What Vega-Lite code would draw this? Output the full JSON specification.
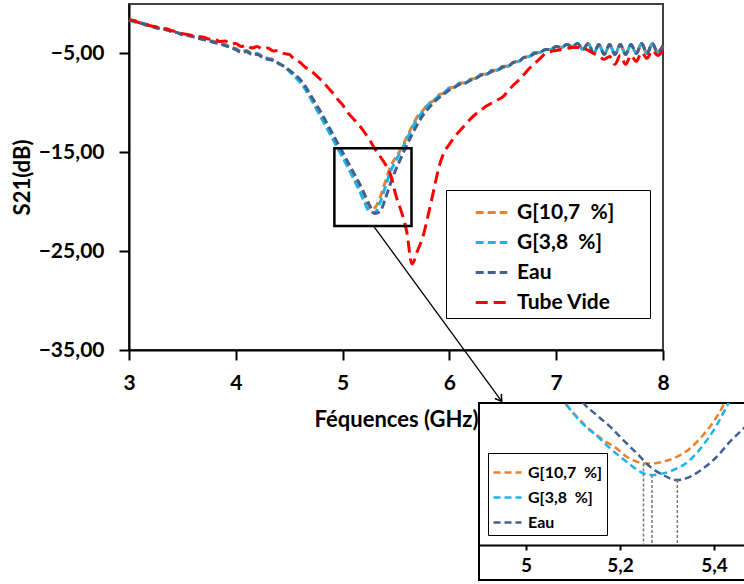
{
"$schema": "https://vega.github.io/schema/vega-lite/v6.json",
"background": "white",
"padding": {"left": 10, "top": 3, "right": 0, "bottom": 0},
"bounds": "flush",
"spacing": 53,
"config": {
 "font": "Lato",
 "view": {"stroke": "#404040", "strokeWidth": 2},
 "axis": {"grid": false, "labelFont": "Lato", "labelFontWeight": "bold", "labelColor": "#000", "titleFont": "Lato", "titleFontWeight": "bold", "titleColor": "#000", "domainColor": "#000", "tickColor": "#000"},
 "legend": {"labelFont": "Lato", "labelFontWeight": "bold", "labelColor": "#000", "strokeColor": "#000", "fillColor": "#fff", "labelLimit": 0}
},
"resolve": {"scale": {"color": "independent", "strokeDash": "independent", "strokeWidth": "independent"}, "legend": {"color": "independent", "strokeDash": "independent", "strokeWidth": "independent"}},
"datasets": {
 "main": [
  {"f":3.00,"g10":-1.6,"g38":-1.6,"eau":-1.6,"tv":-1.6},
  {"f":3.05,"g10":-1.8,"g38":-1.8,"eau":-1.7,"tv":-1.7},
  {"f":3.10,"g10":-1.9,"g38":-1.9,"eau":-1.9,"tv":-1.9},
  {"f":3.15,"g10":-2.1,"g38":-2.0,"eau":-2.1,"tv":-2.0},
  {"f":3.20,"g10":-2.2,"g38":-2.2,"eau":-2.2,"tv":-2.2},
  {"f":3.25,"g10":-2.4,"g38":-2.4,"eau":-2.4,"tv":-2.3},
  {"f":3.30,"g10":-2.4,"g38":-2.5,"eau":-2.5,"tv":-2.5},
  {"f":3.35,"g10":-2.6,"g38":-2.6,"eau":-2.6,"tv":-2.5},
  {"f":3.40,"g10":-2.7,"g38":-2.8,"eau":-2.8,"tv":-2.7},
  {"f":3.45,"g10":-2.9,"g38":-2.9,"eau":-2.9,"tv":-2.8},
  {"f":3.50,"g10":-3.0,"g38":-3.1,"eau":-3.1,"tv":-3.0},
  {"f":3.55,"g10":-3.1,"g38":-3.1,"eau":-3.2,"tv":-3.1},
  {"f":3.60,"g10":-3.3,"g38":-3.3,"eau":-3.3,"tv":-3.2},
  {"f":3.65,"g10":-3.4,"g38":-3.4,"eau":-3.5,"tv":-3.3},
  {"f":3.70,"g10":-3.5,"g38":-3.6,"eau":-3.6,"tv":-3.35},
  {"f":3.75,"g10":-3.7,"g38":-3.7,"eau":-3.7,"tv":-3.55},
  {"f":3.80,"g10":-3.8,"g38":-3.9,"eau":-3.9,"tv":-3.55},
  {"f":3.85,"g10":-4.0,"g38":-4.0,"eau":-4.0,"tv":-3.8},
  {"f":3.90,"g10":-4.1,"g38":-4.2,"eau":-4.2,"tv":-3.75},
  {"f":3.95,"g10":-4.4,"g38":-4.4,"eau":-4.4,"tv":-4.05},
  {"f":4.00,"g10":-4.5,"g38":-4.6,"eau":-4.6,"tv":-4.0},
  {"f":4.05,"g10":-4.8,"g38":-4.8,"eau":-4.9,"tv":-4.3},
  {"f":4.10,"g10":-4.7,"g38":-4.8,"eau":-4.8,"tv":-4.15},
  {"f":4.15,"g10":-5.0,"g38":-5.1,"eau":-5.1,"tv":-4.45},
  {"f":4.20,"g10":-5.0,"g38":-5.0,"eau":-5.1,"tv":-4.3},
  {"f":4.25,"g10":-5.3,"g38":-5.4,"eau":-5.4,"tv":-4.55},
  {"f":4.30,"g10":-5.5,"g38":-5.5,"eau":-5.6,"tv":-4.45},
  {"f":4.35,"g10":-5.6,"g38":-5.7,"eau":-5.7,"tv":-4.75},
  {"f":4.40,"g10":-6.0,"g38":-6.0,"eau":-6.0,"tv":-4.7},
  {"f":4.45,"g10":-6.3,"g38":-6.3,"eau":-6.3,"tv":-5.0},
  {"f":4.50,"g10":-6.7,"g38":-6.8,"eau":-6.7,"tv":-5.1},
  {"f":4.55,"g10":-7.2,"g38":-7.3,"eau":-7.1,"tv":-5.6},
  {"f":4.60,"g10":-7.8,"g38":-7.9,"eau":-7.6,"tv":-5.9},
  {"f":4.65,"g10":-8.6,"g38":-8.6,"eau":-8.3,"tv":-6.4},
  {"f":4.70,"g10":-9.5,"g38":-9.5,"eau":-9.2,"tv":-6.7},
  {"f":4.75,"g10":-10.5,"g38":-10.5,"eau":-10.1,"tv":-7.2},
  {"f":4.80,"g10":-11.4,"g38":-11.5,"eau":-11.0,"tv":-7.7},
  {"f":4.85,"g10":-12.4,"g38":-12.5,"eau":-12.0,"tv":-8.3},
  {"f":4.90,"g10":-13.4,"g38":-13.5,"eau":-13.0,"tv":-8.9},
  {"f":4.95,"g10":-14.4,"g38":-14.5,"eau":-14.0,"tv":-9.6},
  {"f":5.00,"g10":-15.4,"g38":-15.5,"eau":-15.0,"tv":-10.2},
  {"f":5.05,"g10":-16.5,"g38":-16.5,"eau":-16.0,"tv":-11.0},
  {"f":5.10,"g10":-17.5,"g38":-17.6,"eau":-17.0,"tv":-11.6},
  {"f":5.15,"g10":-18.6,"g38":-18.7,"eau":-18.0,"tv":-12.2},
  {"f":5.20,"g10":-19.7,"g38":-19.9,"eau":-19.1,"tv":-12.9},
  {"f":5.25,"g10":-20.7,"g38":-21.0,"eau":-20.3,"tv":-13.7},
  {"f":5.30,"g10":-20.6,"g38":-21.1,"eau":-21.2,"tv":-14.6},
  {"f":5.35,"g10":-19.6,"g38":-20.1,"eau":-21.0,"tv":-15.4},
  {"f":5.40,"g10":-18.0,"g38":-18.5,"eau":-19.7,"tv":-16.2},
  {"f":5.45,"g10":-16.4,"g38":-16.9,"eau":-18.1,"tv":-17.3},
  {"f":5.50,"g10":-15.5,"g38":-15.8,"eau":-16.7,"tv":-19.4},
  {"f":5.55,"g10":-14.6,"g38":-14.8,"eau":-15.5,"tv":-21.0},
  {"f":5.60,"g10":-13.5,"g38":-13.7,"eau":-14.3,"tv":-23.0},
  {"f":5.65,"g10":-12.4,"g38":-12.6,"eau":-13.2,"tv":-26.3},
  {"f":5.70,"g10":-11.4,"g38":-11.6,"eau":-12.2,"tv":-25.0},
  {"f":5.75,"g10":-10.8,"g38":-10.9,"eau":-11.3,"tv":-23.6},
  {"f":5.80,"g10":-10.1,"g38":-10.2,"eau":-10.6,"tv":-21.4},
  {"f":5.85,"g10":-9.8,"g38":-9.8,"eau":-10.0,"tv":-19.0},
  {"f":5.90,"g10":-9.2,"g38":-9.3,"eau":-9.5,"tv":-16.6},
  {"f":5.95,"g10":-9.0,"g38":-9.0,"eau":-9.1,"tv":-15.0},
  {"f":6.00,"g10":-8.5,"g38":-8.5,"eau":-8.7,"tv":-14.2},
  {"f":6.05,"g10":-8.4,"g38":-8.4,"eau":-8.4,"tv":-13.4},
  {"f":6.10,"g10":-8.0,"g38":-8.0,"eau":-8.1,"tv":-12.8},
  {"f":6.15,"g10":-8.0,"g38":-8.0,"eau":-8.0,"tv":-12.2},
  {"f":6.20,"g10":-7.6,"g38":-7.6,"eau":-7.7,"tv":-11.6},
  {"f":6.25,"g10":-7.5,"g38":-7.5,"eau":-7.5,"tv":-11.1},
  {"f":6.30,"g10":-7.1,"g38":-7.1,"eau":-7.2,"tv":-10.7},
  {"f":6.35,"g10":-7.1,"g38":-7.1,"eau":-7.1,"tv":-10.3},
  {"f":6.40,"g10":-6.7,"g38":-6.7,"eau":-6.8,"tv":-10.0},
  {"f":6.45,"g10":-6.7,"g38":-6.7,"eau":-6.7,"tv":-9.7},
  {"f":6.50,"g10":-6.3,"g38":-6.3,"eau":-6.4,"tv":-9.4},
  {"f":6.55,"g10":-6.3,"g38":-6.3,"eau":-6.3,"tv":-8.8},
  {"f":6.60,"g10":-5.9,"g38":-5.9,"eau":-5.9,"tv":-8.2},
  {"f":6.65,"g10":-5.8,"g38":-5.8,"eau":-5.8,"tv":-7.7},
  {"f":6.70,"g10":-5.4,"g38":-5.4,"eau":-5.4,"tv":-7.1},
  {"f":6.75,"g10":-5.3,"g38":-5.3,"eau":-5.3,"tv":-6.5},
  {"f":6.80,"g10":-4.9,"g38":-4.9,"eau":-5.0,"tv":-6.0},
  {"f":6.85,"g10":-4.9,"g38":-4.9,"eau":-4.9,"tv":-5.5},
  {"f":6.90,"g10":-4.6,"g38":-4.6,"eau":-4.6,"tv":-5.0},
  {"f":6.95,"g10":-4.6,"g38":-4.6,"eau":-4.6,"tv":-4.8},
  {"f":7.00,"g10":-4.3,"g38":-4.3,"eau":-4.3,"tv":-4.7},
  {"f":7.05,"g10":-4.4,"g38":-4.4,"eau":-4.4,"tv":-4.6},
  {"f":7.10,"g10":-4.1,"g38":-4.1,"eau":-4.1,"tv":-4.5},
  {"f":7.15,"g10":-4.3,"g38":-4.3,"eau":-4.3,"tv":-4.4},
  {"f":7.20,"g10":-4.0,"g38":-4.0,"eau":-4.0,"tv":-4.4},
  {"f":7.25,"g10":-4.6,"g38":-4.6,"eau":-4.6,"tv":-4.5},
  {"f":7.30,"g10":-4.0,"g38":-4.0,"eau":-4.0,"tv":-4.7},
  {"f":7.35,"g10":-5.0,"g38":-5.0,"eau":-5.0,"tv":-5.0},
  {"f":7.40,"g10":-4.1,"g38":-4.1,"eau":-4.1,"tv":-5.3},
  {"f":7.45,"g10":-5.1,"g38":-5.1,"eau":-5.1,"tv":-5.6},
  {"f":7.50,"g10":-4.1,"g38":-4.1,"eau":-4.1,"tv":-5.3},
  {"f":7.55,"g10":-5.1,"g38":-5.1,"eau":-5.1,"tv":-6.1},
  {"f":7.60,"g10":-4.1,"g38":-4.1,"eau":-4.1,"tv":-5.2},
  {"f":7.65,"g10":-5.1,"g38":-5.1,"eau":-5.1,"tv":-6.1},
  {"f":7.70,"g10":-4.1,"g38":-4.1,"eau":-4.1,"tv":-5.2},
  {"f":7.75,"g10":-5.0,"g38":-5.0,"eau":-5.0,"tv":-5.8},
  {"f":7.80,"g10":-4.0,"g38":-4.0,"eau":-4.0,"tv":-4.9},
  {"f":7.85,"g10":-5.0,"g38":-5.0,"eau":-5.0,"tv":-5.5},
  {"f":7.90,"g10":-4.0,"g38":-4.0,"eau":-4.0,"tv":-4.7},
  {"f":7.95,"g10":-4.9,"g38":-4.9,"eau":-4.9,"tv":-5.2},
  {"f":8.00,"g10":-4.2,"g38":-4.2,"eau":-4.2,"tv":-4.7}
 ],
 "inset": [
  {"s":"g10","f":5.070,"v":-15.4},{"s":"g10","f":5.083,"v":-16.02},{"s":"g10","f":5.108,"v":-17.05},{"s":"g10","f":5.129,"v":-17.82},{"s":"g10","f":5.165,"v":-18.85},{"s":"g10","f":5.193,"v":-19.49},{"s":"g10","f":5.214,"v":-20.13},{"s":"g10","f":5.236,"v":-20.51},{"s":"g10","f":5.250,"v":-20.64},{"s":"g10","f":5.271,"v":-20.64},{"s":"g10","f":5.292,"v":-20.51},{"s":"g10","f":5.321,"v":-20.13},{"s":"g10","f":5.349,"v":-19.49},{"s":"g10","f":5.377,"v":-18.46},{"s":"g10","f":5.399,"v":-17.44},{"s":"g10","f":5.420,"v":-16.15},{"s":"g10","f":5.428,"v":-15.5},
  {"s":"g38","f":5.074,"v":-15.4},{"s":"g38","f":5.087,"v":-16.15},{"s":"g38","f":5.108,"v":-17.10},{"s":"g38","f":5.129,"v":-17.88},{"s":"g38","f":5.150,"v":-18.50},{"s":"g38","f":5.179,"v":-19.49},{"s":"g38","f":5.214,"v":-20.51},{"s":"g38","f":5.243,"v":-21.28},{"s":"g38","f":5.264,"v":-21.54},{"s":"g38","f":5.292,"v":-21.41},{"s":"g38","f":5.321,"v":-21.03},{"s":"g38","f":5.349,"v":-20.38},{"s":"g38","f":5.377,"v":-19.23},{"s":"g38","f":5.406,"v":-17.69},{"s":"g38","f":5.423,"v":-16.54},{"s":"g38","f":5.431,"v":-16.0},{"s":"g38","f":5.438,"v":-15.4},
  {"s":"eau","f":5.105,"v":-15.3},{"s":"eau","f":5.122,"v":-16.02},{"s":"eau","f":5.150,"v":-16.92},{"s":"eau","f":5.179,"v":-17.82},{"s":"eau","f":5.207,"v":-18.85},{"s":"eau","f":5.236,"v":-19.87},{"s":"eau","f":5.264,"v":-20.90},{"s":"eau","f":5.292,"v":-21.54},{"s":"eau","f":5.321,"v":-21.92},{"s":"eau","f":5.349,"v":-21.67},{"s":"eau","f":5.377,"v":-21.03},{"s":"eau","f":5.406,"v":-20.13},{"s":"eau","f":5.434,"v":-18.97},{"s":"eau","f":5.463,"v":-17.95},{"s":"eau","f":5.480,"v":-17.3}
 ]
},
"vconcat": [
 {
  "width": 534, "height": 346,
  "layer": [
   {
    "data": {"name": "main"},
    "transform": [{"fold": ["g10", "g38", "eau", "tv"], "as": ["s", "v"]}],
    "mark": {"type": "line", "interpolate": "monotone"},
    "encoding": {
     "x": {"field": "f", "type": "quantitative", "title": "Féquences (GHz)", "scale": {"domain": [3, 8], "nice": false, "zero": false},
       "axis": {"values": [3, 4, 5, 6, 7, 8], "format": "d", "labelFontSize": 21, "titleFontSize": 22, "tickSize": 10, "tickWidth": 2, "domainWidth": 2, "labelPadding": 12, "titlePadding": 16, "labelFlush": false}},
     "y": {"field": "v", "type": "quantitative", "title": "S21(dB)", "scale": {"domain": [-35, 0], "nice": false, "zero": false},
       "axis": {"values": [-35, -25, -15, -5], "labelExpr": "replace(format(datum.value, '.2f'), '.', ',')", "labelFontSize": 21, "titleFontSize": 22, "tickSize": 10, "tickWidth": 2, "domainWidth": 2, "labelPadding": 15, "titlePadding": 4}},
     "color": {"field": "s", "type": "nominal", "scale": {"domain": ["g10", "g38", "eau", "tv"], "range": ["#E9822F", "#1AB3EC", "#43608E", "#FF0000"]},
       "legend": {"orient": "none", "legendX": 317, "legendY": 186, "title": "\u00a0", "titleOrient": "right", "titlePadding": 31, "titleFontSize": 21, "labelExpr": "datum.value == 'g10' ? 'G[10,7\u00a0\u00a0%]' : datum.value == 'g38' ? 'G[3,8\u00a0\u00a0%]' : datum.value == 'eau' ? 'Eau' : 'Tube Vide'", "labelFontSize": 21, "symbolSize": 1000, "symbolType": "stroke", "padding": 5, "symbolOffset": 23, "rowPadding": 2, "labelOffset": 8, "cornerRadius": 0}},
     "strokeDash": {"field": "s", "type": "nominal", "scale": {"domain": ["g10", "g38", "eau", "tv"], "range": [[8, 4], [8, 4], [8, 4], [12, 6]]},
       "legend": {"orient": "none", "legendX": 317, "legendY": 186, "title": "\u00a0", "titleOrient": "right", "titlePadding": 31, "titleFontSize": 21, "labelExpr": "datum.value == 'g10' ? 'G[10,7\u00a0\u00a0%]' : datum.value == 'g38' ? 'G[3,8\u00a0\u00a0%]' : datum.value == 'eau' ? 'Eau' : 'Tube Vide'", "labelFontSize": 21, "symbolSize": 1000, "symbolType": "stroke", "padding": 5, "symbolOffset": 23, "rowPadding": 2, "labelOffset": 8, "cornerRadius": 0}},
     "strokeWidth": {"field": "s", "type": "ordinal", "scale": {"domain": ["g10", "g38", "eau", "tv"], "range": [3, 3, 3, 5]},
       "legend": {"orient": "none", "legendX": 317, "legendY": 186, "title": "\u00a0", "titleOrient": "right", "titlePadding": 31, "titleFontSize": 21, "labelExpr": "datum.value == 'g10' ? 'G[10,7\u00a0\u00a0%]' : datum.value == 'g38' ? 'G[3,8\u00a0\u00a0%]' : datum.value == 'eau' ? 'Eau' : 'Tube Vide'", "labelFontSize": 21, "symbolSize": 1000, "symbolType": "stroke", "padding": 5, "symbolOffset": 23, "rowPadding": 2, "labelOffset": 8, "cornerRadius": 0}}
    }
   },
   {
    "data": {"values": [{"f": 4.923, "f2": 5.645, "v": -14.6, "v2": -22.46}]},
    "mark": {"type": "rect", "filled": false, "stroke": "#000", "strokeWidth": 2.5},
    "encoding": {
     "x": {"field": "f", "type": "quantitative", "title": "Féquences (GHz)"}, "x2": {"field": "f2"},
     "y": {"field": "v", "type": "quantitative", "title": "S21(dB)"}, "y2": {"field": "v2"}
    }
   },
   {
    "data": {"values": [{"f": 5.29, "f2": 6.49, "v": -22.46, "v2": -40.2}]},
    "mark": {"type": "rule", "stroke": "#000", "strokeWidth": 1.3},
    "encoding": {
     "x": {"field": "f", "type": "quantitative", "title": "Féquences (GHz)"}, "x2": {"field": "f2"},
     "y": {"field": "v", "type": "quantitative", "title": "S21(dB)"}, "y2": {"field": "v2"}
    }
   },
   {
    "data": {"values": [{"f": 6.49, "v": -40.2}]},
    "mark": {"type": "point", "shape": "M -0.5 0.8 L 0 0 L 0.5 0.8", "angle": 145, "size": 250, "filled": false, "stroke": "#000", "strokeWidth": 1.5, "opacity": 1},
    "encoding": {
     "x": {"field": "f", "type": "quantitative", "title": "Féquences (GHz)"},
     "y": {"field": "v", "type": "quantitative", "title": "S21(dB)"}
    }
   }
  ]
 },
 {
  "spacing": 0,
  "bounds": "flush",
  "resolve": {"scale": {"color": "independent", "strokeDash": "independent"}, "legend": {"color": "independent", "strokeDash": "independent"}},
  "hconcat": [
   {"width": 350, "height": 20, "data": {"values": [{"a": 1}]}, "mark": {"type": "point", "opacity": 0}, "view": {"stroke": null}},
   {
    "width": 266, "height": 177,
    "view": {"stroke": "#000", "strokeWidth": 2},
    "layer": [
     {
      "data": {"name": "inset"},
      "mark": {"type": "line", "clip": true, "strokeWidth": 2.5, "interpolate": "monotone"},
      "encoding": {
       "x": {"field": "f", "type": "quantitative", "title": null, "scale": {"domain": [4.9, 5.466], "nice": false, "zero": false},
         "axis": {"values": [5, 5.2, 5.4], "labelExpr": "replace(format(datum.value, '~g'), '.', ',')", "offset": -35, "labelFontSize": 19, "tickSize": 5, "tickWidth": 2, "domainWidth": 2, "labelPadding": 6, "labelFlush": false}},
       "y": {"field": "v", "type": "quantitative", "scale": {"domain": [-29.6, -16], "nice": false, "zero": false}, "axis": null},
       "color": {"field": "s", "type": "nominal", "scale": {"domain": ["g10", "g38", "eau"], "range": ["#E9822F", "#1AB3EC", "#43608E"]},
         "legend": {"orient": "none", "legendX": 9, "legendY": 50, "title": null, "labelExpr": "datum.value == 'g10' ? 'G[10,7\u00a0\u00a0%]' : datum.value == 'g38' ? 'G[3,8\u00a0\u00a0%]' : 'Eau'", "labelFontSize": 16, "symbolSize": 784, "symbolType": "stroke", "symbolStrokeWidth": 2.5, "padding": 4, "rowPadding": 1, "labelOffset": 5, "cornerRadius": 0}},
       "strokeDash": {"field": "s", "type": "nominal", "scale": {"domain": ["g10", "g38", "eau"], "range": [[7, 4], [7, 4], [7, 4]]},
         "legend": {"orient": "none", "legendX": 9, "legendY": 50, "title": null, "labelExpr": "datum.value == 'g10' ? 'G[10,7\u00a0\u00a0%]' : datum.value == 'g38' ? 'G[3,8\u00a0\u00a0%]' : 'Eau'", "labelFontSize": 16, "symbolSize": 784, "symbolType": "stroke", "symbolStrokeWidth": 2.5, "padding": 4, "rowPadding": 1, "labelOffset": 5, "cornerRadius": 0}}
      }
     },
     {
      "data": {"values": [{"f": 5.25, "v": -20.64, "v2": -26.92}, {"f": 5.268, "v": -21.54, "v2": -26.92}, {"f": 5.322, "v": -21.92, "v2": -26.92}]},
      "mark": {"type": "rule", "stroke": "#7a7a7a", "strokeWidth": 1.5, "strokeDash": [3, 2]},
      "encoding": {
       "x": {"field": "f", "type": "quantitative", "title": null},
       "y": {"field": "v", "type": "quantitative", "axis": null}, "y2": {"field": "v2"}
      }
     }
    ]
   }
  ]
 }
]
}
